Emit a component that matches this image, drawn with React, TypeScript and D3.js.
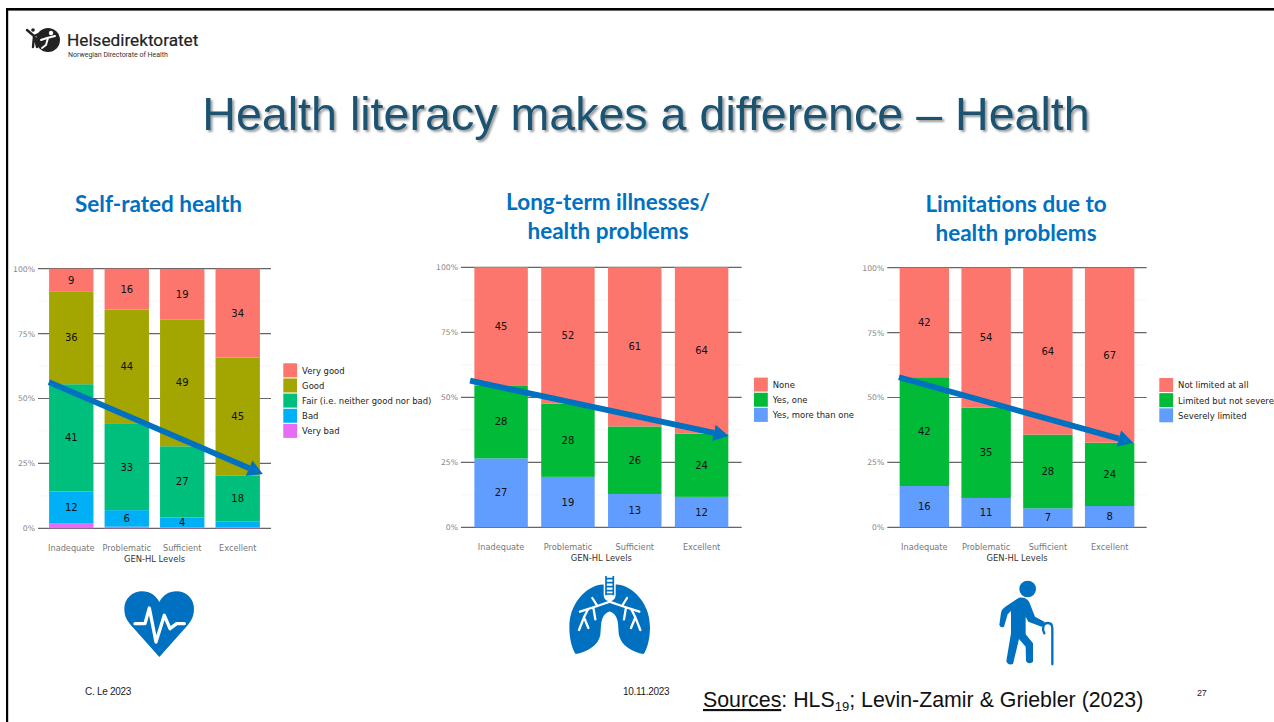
import React, { useEffect, useRef } from "react";
import * as d3 from "d3";

const levels = ["Inadequate", "Problematic", "Sufficient", "Excellent"];
const pctTicks = [0, 25, 50, 75, 100];
const minorTicks = [12.5, 37.5, 62.5, 87.5];

// self-rated health, bottom of the stack first
const srhKeys = ["Very bad", "Bad", "Fair (i.e. neither good nor bad)", "Good", "Very good"];
const srhVeryBad = [2, 0.6, 0.3, 0.4];
const srhBad = [12.2, 6.4, 3.9, 2.3];
const srhFair = [41.3, 33.2, 27.4, 17.7];
const srhGood = [35.8, 44.1, 48.9, 45.4];
const srhVeryGood = [8.7, 15.7, 19.4, 34.2];

const illKeys = ["Yes, more than one", "Yes, one", "None"];
const illMore = [26.5, 19.4, 12.8, 11.7];
const illOne = [28.1, 28.2, 26, 24.3];
const illNone = [45.4, 52.4, 61.2, 64];

const limKeys = ["Severely limited", "Limited but not severe", "Not limited at all"];
const limSevere = [15.9, 11.3, 7.3, 8.2];
const limSome = [41.9, 34.8, 28.4, 24.4];
const limNone = [42.2, 53.9, 64.3, 67.4];

// where the blue trend arrows start and end, in percent
const srhArrow = [56.3, 20.9];
const illArrow = [56.4, 35.1];
const limArrow = [57.8, 32.6];

const hue5 = ["#E76BF3", "#00B0F6", "#00BF7D", "#A3A500", "#FC766D"];
const hue3 = ["#619CFF", "#00BA38", "#FC766D"];
const BLUE = "#0070C0";
const UI = "'DejaVu Sans', sans-serif";
const ARIAL = "'Liberation Sans', Arial, sans-serif";

type Panel = {
  keys: string[];
  series: number[][];
  colors: string[];
  arrow: number[];
  x0: number;
  x1: number;
  yTop: number;
  yBottom: number;
  arrowDx: number[];
  legendX: number;
  legendY: number;
};

const panels: Panel[] = [
  {
    keys: srhKeys,
    series: [srhVeryBad, srhBad, srhFair, srhGood, srhVeryGood],
    colors: hue5,
    arrow: srhArrow,
    x0: 38,
    x1: 271,
    yTop: 268.7,
    yBottom: 528.3,
    arrowDx: [-0.2, 3],
    legendX: 283.3,
    legendY: 363.3,
  },
  {
    keys: illKeys,
    series: [illMore, illOne, illNone],
    colors: hue3,
    arrow: illArrow,
    x0: 461,
    x1: 741.7,
    yTop: 267.3,
    yBottom: 527.3,
    arrowDx: [-4.3, 0.3],
    legendX: 754,
    legendY: 377.6,
  },
  {
    keys: limKeys,
    series: [limSevere, limSome, limNone],
    colors: hue3,
    arrow: limArrow,
    x0: 887.3,
    x1: 1146.7,
    yTop: 267.7,
    yBottom: 527.3,
    arrowDx: [-0.7, -1],
    legendX: 1159.3,
    legendY: 378,
  },
];

function drawPanel(svg: any, p: Panel) {
  const x = d3.scaleBand().domain(levels).range([p.x0, p.x1]).paddingInner(0.2).paddingOuter(0.2);
  const y = d3.scaleLinear().domain([0, 100]).range([p.yBottom, p.yTop]);
  const g = svg.append("g");

  // grid first, the bars sit on top of it
  g.selectAll(".minor")
    .data(minorTicks)
    .enter()
    .append("line")
    .attr("x1", p.x0)
    .attr("x2", p.x1)
    .attr("y1", (d: number) => y(d))
    .attr("y2", (d: number) => y(d))
    .attr("stroke", "#f2f2f2")
    .attr("stroke-width", 0.7);
  g.selectAll(".major")
    .data(pctTicks)
    .enter()
    .append("line")
    .attr("x1", p.x0)
    .attr("x2", p.x1)
    .attr("y1", (d: number) => y(d))
    .attr("y2", (d: number) => y(d))
    .attr("stroke", "#666")
    .attr("stroke-width", 1.2);

  const rows = levels.map((l, i) => {
    const row: any = { level: l };
    p.keys.forEach((k, j) => (row[k] = p.series[j][i]));
    return row;
  });
  const stacked = d3.stack().keys(p.keys)(rows);

  stacked.forEach((layer: any, j: number) => {
    g.append("g")
      .selectAll("rect")
      .data(layer)
      .enter()
      .append("rect")
      .attr("x", (d: any) => x(d.data.level))
      .attr("width", x.bandwidth())
      .attr("y", (d: any) => y(d[1]))
      .attr("height", (d: any) => y(d[0]) - y(d[1]))
      .attr("fill", p.colors[j]);
    g.append("g")
      .selectAll("text")
      .data(layer.filter((d: any) => d[1] - d[0] >= 3))
      .enter()
      .append("text")
      .attr("x", (d: any) => x(d.data.level)! + x.bandwidth() / 2)
      .attr("y", (d: any) => y((d[0] + d[1]) / 2))
      .attr("dy", "0.36em")
      .attr("text-anchor", "middle")
      .attr("font-family", UI)
      .attr("font-size", 10)
      .attr("fill", "#111")
      .text((d: any) => Math.round(d[1] - d[0]));
  });

  // y labels
  const yAxis = g
    .append("g")
    .attr("transform", `translate(${p.x0},0)`)
    .call(
      d3
        .axisLeft(y)
        .tickValues(pctTicks)
        .tickSize(0)
        .tickFormat((d: any) => d + "%"),
    );
  yAxis.select(".domain").remove();
  yAxis
    .selectAll("text")
    .attr("font-family", UI)
    .attr("font-size", 7.7)
    .attr("fill", "#888");

  // x labels
  const xAxis = g
    .append("g")
    .attr("transform", `translate(0,${p.yBottom})`)
    .call(d3.axisBottom(x).tickSize(0).tickPadding(17));
  xAxis.select(".domain").remove();
  xAxis
    .selectAll("text")
    .attr("font-family", UI)
    .attr("font-size", 8.2)
    .attr("fill", "#777");

  g.append("text")
    .attr("x", (p.x0 + p.x1) / 2)
    .attr("y", p.yBottom + 34)
    .attr("text-anchor", "middle")
    .attr("font-family", UI)
    .attr("font-size", 8.4)
    .attr("fill", "#333")
    .text("GEN-HL Levels");

  // legend, reversed so the top of the stack comes first
  const legendKeys = [...p.keys].reverse();
  const legendColors = [...p.colors].reverse();
  legendKeys.forEach((k, i) => {
    g.append("rect")
      .attr("x", p.legendX)
      .attr("y", p.legendY + i * 15.15)
      .attr("width", 13.8)
      .attr("height", 14)
      .attr("fill", legendColors[i]);
    g.append("text")
      .attr("x", p.legendX + 18.8)
      .attr("y", p.legendY + i * 15.15 + 7.4)
      .attr("dy", "0.36em")
      .attr("font-family", UI)
      .attr("font-size", 8.46)
      .attr("fill", "#222")
      .text(k);
  });

  // trend arrow
  const ax0 = x(levels[0])! + p.arrowDx[0];
  const ax1 = x(levels[3])! + x.bandwidth() + p.arrowDx[1];
  const ay0 = y(p.arrow[0]);
  const ay1 = y(p.arrow[1]);
  const len = Math.hypot(ax1 - ax0, ay1 - ay0);
  const ux = (ax1 - ax0) / len;
  const uy = (ay1 - ay0) / len;
  const bx = ax1 - ux * 15;
  const by = ay1 - uy * 15;
  g.append("line")
    .attr("x1", ax0)
    .attr("y1", ay0)
    .attr("x2", bx)
    .attr("y2", by)
    .attr("stroke", BLUE)
    .attr("stroke-width", 5.8);
  g.append("path")
    .attr(
      "d",
      d3.line()([
        [ax1, ay1],
        [bx - uy * 8.4, by + ux * 8.4],
        [bx + uy * 8.4, by - ux * 8.4],
      ]) + "Z",
    )
    .attr("fill", BLUE);
}

function drawIcons(svg: any) {
  // heart
  const heart = svg.append("g").attr("transform", "translate(115,582) scale(0.3333)");
  heart
    .append("path")
    .attr(
      "d",
      "M133 225 L48 130 C34 113 28 100 28 80 C28 50 52 28 82 28 C104 28 122 40 133 60 C144 40 162 28 184 28 C214 28 237 50 237 80 C237 100 231 113 218 130 Z",
    )
    .attr("fill", BLUE);
  heart
    .append("path")
    .attr("d", "M60 125 L90 125 L103 78 L123 180 L148 100 L165 140 L185 125 L208 125")
    .attr("fill", "none")
    .attr("stroke", "#fff")
    .attr("stroke-width", 10)
    .attr("stroke-linejoin", "round")
    .attr("stroke-linecap", "round");

  // lungs, right lobe is the left one mirrored
  const lungs = svg.append("g").attr("transform", "translate(560,570) scale(0.3333)");
  const lobe = "M131 44 C100 40 28 84 28 172 C28 205 36 238 47 252 C80 247 115 227 121 195 C125 170 118 135 150 124 L150 95 C138 92 132 88 131 75 Z";
  const branches = "M150 82 L150 95 L112 108 L97 84 M112 108 L60 125 M100 112 L106 148 M84 118 L72 142 L57 180 M72 142 L85 174";
  [0, 1].forEach((side) => {
    const s = lungs.append("g").attr("transform", side ? "translate(298,0) scale(-1,1)" : null);
    s.append("path").attr("d", lobe).attr("fill", BLUE);
    s.append("path")
      .attr("d", branches)
      .attr("fill", "none")
      .attr("stroke", "#fff")
      .attr("stroke-width", 7)
      .attr("stroke-linecap", "round")
      .attr("stroke-linejoin", "round");
  });
  lungs
    .append("path")
    .attr("d", "M138 18 V76 M160 18 V76 M138 26 H160 M138 38 H160 M138 50 H160 M138 62 H160 M138 72 H160")
    .attr("fill", "none")
    .attr("stroke", BLUE)
    .attr("stroke-width", 5);

  // old man with a cane
  const man = svg.append("g").attr("transform", "translate(985,575) scale(0.3333)");
  man.append("circle").attr("cx", 128).attr("cy", 42).attr("r", 25).attr("fill", BLUE);
  man
    .append("path")
    .attr(
      "d",
      "M102 68 L60 96 Q50 103 48 113 L43 150 Q47 160 57 155 L68 118 L78 108 L78 175 L64 258 Q68 272 84 267 L102 192 L122 215 L123 258 Q130 270 144 260 L144 205 L122 178 L122 125 L130 140 L170 155 Q182 150 178 140 L150 125 L133 82 Q125 66 102 68 Z",
    )
    .attr("fill", BLUE);
  man
    .append("path")
    .attr("d", "M178 175 C170 160 175 144 188 144 C197 144 202 150 202 160 L202 268")
    .attr("fill", "none")
    .attr("stroke", BLUE)
    .attr("stroke-width", 7)
    .attr("stroke-linecap", "round");
}

function drawLogo(svg: any) {
  const INK = "#222";
  svg.append("circle").attr("cx", 48).attr("cy", 40).attr("r", 12).attr("fill", INK);
  svg
    .append("path")
    .attr("d", "M27 30 L34 36 L41 33 M34 36 L33 47 M35 38 L37 47")
    .attr("fill", "none")
    .attr("stroke", INK)
    .attr("stroke-width", 2.4)
    .attr("stroke-linecap", "round");
  svg.append("circle").attr("cx", 33).attr("cy", 30).attr("r", 1.8).attr("fill", INK);
  svg
    .append("path")
    .attr("d", "M41 40 L47 38 L55 36 M48 38 L46 45 L42 48")
    .attr("fill", "none")
    .attr("stroke", "#fff")
    .attr("stroke-width", 2)
    .attr("stroke-linecap", "round");
  svg.append("circle").attr("cx", 51).attr("cy", 33).attr("r", 2.2).attr("fill", "#fff");
  svg
    .append("text")
    .attr("x", 67)
    .attr("y", 46)
    .attr("font-family", "Roboto, sans-serif")
    .attr("font-weight", 400)
    .attr("font-size", 17.2)
    .attr("stroke", "#222")
    .attr("stroke-width", 0.2)
    .attr("fill", "#222")
    .text("Helsedirektoratet");
  svg
    .append("text")
    .attr("x", 68)
    .attr("y", 57)
    .attr("font-family", "Roboto, sans-serif")
    .attr("font-size", 7)
    .attr("fill", "#333")
    .text("Norwegian Directorate of Health");
}

function drawText(svg: any) {
  const defs = svg.append("defs");
  defs
    .append("filter")
    .attr("id", "titleShadow")
    .attr("x", "-5%")
    .attr("y", "-20%")
    .attr("width", "110%")
    .attr("height", "150%")
    .append("feDropShadow")
    .attr("dx", 2)
    .attr("dy", 2)
    .attr("stdDeviation", 1.2)
    .attr("flood-color", "#000")
    .attr("flood-opacity", 0.4);

  svg
    .append("text")
    .attr("x", 646)
    .attr("y", 130)
    .attr("text-anchor", "middle")
    .attr("font-family", ARIAL)
    .attr("font-size", 46.6)
    .attr("fill", "#1B5271")
    .attr("filter", "url(#titleShadow)")
    .text("Health literacy makes a difference – Health");

  const heads: [string, number, number][] = [
    ["Self-rated health", 158.5, 212],
    ["Long-term illnesses/", 608, 210],
    ["health problems", 608, 239],
    ["Limitations due to", 1016, 212],
    ["health problems", 1016, 241],
  ];
  heads.forEach(([t, hx, hy]) => {
    svg
      .append("text")
      .attr("x", hx)
      .attr("y", hy)
      .attr("text-anchor", "middle")
      .attr("font-family", "Lato, sans-serif")
      .attr("font-weight", 700)
      .attr("font-size", 22.5)
      .attr("fill", BLUE)
      .text(t);
  });

  const small: [string, number, number, number][] = [
    ["C. Le 2023", 85, 694.5, 10],
    ["10.11.2023", 623, 694.5, 10],
    ["27", 1197, 696, 9],
  ];
  small.forEach(([t, sx, sy, fs]) => {
    svg
      .append("text")
      .attr("x", sx)
      .attr("y", sy)
      .attr("font-family", ARIAL)
      .attr("font-size", fs)
      .attr("letter-spacing", -0.3)
      .attr("fill", "#222")
      .text(t);
  });

  const src = svg
    .append("text")
    .attr("x", 703)
    .attr("y", 707)
    .attr("font-family", ARIAL)
    .attr("font-size", 21.35)
    .attr("fill", "#111");
  src.append("tspan").attr("text-decoration", "underline").text("Sources");
  src.append("tspan").text(": HLS");
  src.append("tspan").attr("font-size", 13).attr("dy", 4).text("19");
  src.append("tspan").attr("dy", -4).text("; Levin-Zamir & Griebler (2023)");
}

export default function App() {
  const ref = useRef<SVGSVGElement>(null);

  useEffect(() => {
    const svg = d3.select(ref.current);
    svg.selectAll("*").remove();

    // slide frame, only the top and left edges show
    svg.append("rect").attr("x", 6).attr("y", 8).attr("width", 1268).attr("height", 2.6).attr("fill", "#000");
    svg.append("rect").attr("x", 6).attr("y", 8).attr("width", 2.2).attr("height", 714).attr("fill", "#000");

    drawLogo(svg);
    drawText(svg);
    panels.forEach((p) => drawPanel(svg, p));
    drawIcons(svg);
  }, []);

  return (
    <svg
      ref={ref}
      width={1274}
      height={722}
      style={{ position: "absolute", left: 0, top: 0, background: "#fff" }}
    />
  );
}
